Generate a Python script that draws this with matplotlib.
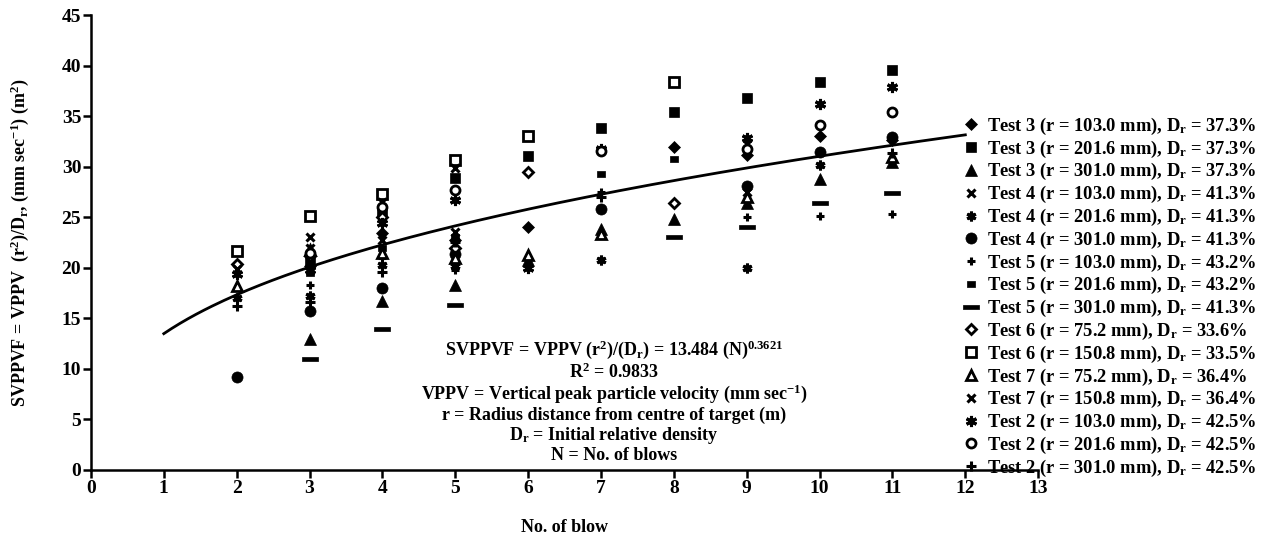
import matplotlib
matplotlib.use("Agg")
import matplotlib.pyplot as plt
import numpy as np

plt.rcParams['font.family'] = ['Liberation Serif', 'DejaVu Serif']
plt.rcParams['font.weight'] = 'bold'
plt.rcParams['mathtext.fontset'] = 'custom'
plt.rcParams['mathtext.rm'] = 'Liberation Serif:bold'
plt.rcParams['mathtext.it'] = 'Liberation Serif:italic:bold'
plt.rcParams['mathtext.bf'] = 'Liberation Serif:bold'

nan = np.nan
blows = [2, 3, 4, 5, 6, 7, 8, 9, 10, 11]

# values, one list per test / radius
t3_103 = [nan, 20.2, 23.4, 22.8, 24.0, nan, 32.0, 31.2, 33.0, 32.6]
t3_201 = [nan, 20.6, 25.5, 28.9, 31.1, 33.8, 35.4, 36.8, 38.4, 39.6]
t3_301 = [nan, 13.0, 16.7, 18.3, 20.8, 23.8, 24.8, 26.4, 28.8, 30.5]
t4_103 = [nan, 22.0, 22.8, 23.5, nan, nan, nan, 27.5, nan, nan]
t4_201 = [17.0, 17.2, 20.3, 20.2, nan, 20.8, nan, 20.0, 30.2, nan]
t4_301 = [9.2, 15.7, 18.0, 21.4, nan, 25.8, nan, 28.1, 31.5, 32.9]
t5_103 = [nan, 18.3, 21.0, 19.8, nan, 27.5, nan, 25.0, 25.1, 25.3]
t5_201 = [nan, 19.5, 22.0, 23.0, nan, 29.3, 30.8, nan, nan, nan]
t5_301 = [nan, 11.0, 13.9, 16.3, nan, nan, 23.0, 24.0, 26.4, 27.4]
t6_75 = [20.4, 21.2, 25.0, 22.0, 29.5, nan, 26.4, nan, nan, nan]
t6_150 = [21.7, 25.1, 27.3, 30.7, 33.0, nan, 38.4, nan, nan, nan]
t7_75 = [18.2, 21.8, 21.5, 21.0, 21.3, 23.3, nan, 27.0, nan, 31.0]
t7_150 = [19.9, 23.0, 26.5, 29.9, nan, nan, nan, 32.3, nan, nan]
t2_103 = [19.4, 19.8, 24.4, 26.7, 20.0, 31.8, nan, 32.8, 36.2, 37.9]
t2_201 = [nan, 21.5, 26.0, 27.7, nan, 31.6, nan, 31.8, 34.1, 35.4]
t2_301 = [16.2, 16.6, 19.6, 22.6, nan, 27.0, nan, nan, nan, 31.4]

labels = [
    "Test 3 (r = 103.0 mm), D$_{\\mathrm{r}}$ = 37.3%",
    "Test 3 (r = 201.6 mm), D$_{\\mathrm{r}}$ = 37.3%",
    "Test 3 (r = 301.0 mm), D$_{\\mathrm{r}}$ = 37.3%",
    "Test 4 (r = 103.0 mm), D$_{\\mathrm{r}}$ = 41.3%",
    "Test 4 (r = 201.6 mm), D$_{\\mathrm{r}}$ = 41.3%",
    "Test 4 (r = 301.0 mm), D$_{\\mathrm{r}}$ = 41.3%",
    "Test 5 (r = 103.0 mm), D$_{\\mathrm{r}}$ = 43.2%",
    "Test 5 (r = 201.6 mm), D$_{\\mathrm{r}}$ = 43.2%",
    "Test 5 (r = 301.0 mm), D$_{\\mathrm{r}}$ = 41.3%",
    "Test 6 (r = 75.2 mm), D$_{\\mathrm{r}}$ = 33.6%",
    "Test 6 (r = 150.8 mm), D$_{\\mathrm{r}}$ = 33.5%",
    "Test 7 (r = 75.2 mm), D$_{\\mathrm{r}}$ = 36.4%",
    "Test 7 (r = 150.8 mm), D$_{\\mathrm{r}}$ = 36.4%",
    "Test 2 (r = 103.0 mm), D$_{\\mathrm{r}}$ = 42.5%",
    "Test 2 (r = 201.6 mm), D$_{\\mathrm{r}}$ = 42.5%",
    "Test 2 (r = 301.0 mm), D$_{\\mathrm{r}}$ = 42.5%",
]

# fit given on the chart
fit_a = 13.484
fit_b = 0.3621

small_bar = [(-0.5, -0.35), (0.5, -0.35), (0.5, 0.35), (-0.5, 0.35), (-0.5, -0.35)]
long_bar = [(-1, -0.32), (1, -0.32), (1, 0.32), (-1, 0.32), (-1, -0.32)]
aster = (6, 2, 0)

# marker, filled, size
styles = [
    ('D', True, 6), ('s', True, 7), ('^', True, 8),
    ('x', False, 6), (aster, False, 7), ('o', True, 8),
    ('+', False, 6), (small_bar, True, 6), (long_bar, True, 11),
    ('D', False, 5.5), ('s', False, 7), ('^', False, 7.5),
    ('x', False, 6), (aster, False, 8), ('o', False, 6.5),
    ('+', False, 7),
]

series = [t3_103, t3_201, t3_301, t4_103, t4_201, t4_301, t5_103, t5_201,
          t5_301, t6_75, t6_150, t7_75, t7_150, t2_103, t2_201, t2_301]

fig = plt.figure(figsize=(12.63, 5.42), dpi=100)
ax = fig.add_axes([0.072, 0.133, 0.75, 0.839])

nn = np.linspace(1, 12, 200)
ax.plot(nn, fit_a * nn ** fit_b, color='black', lw=2, zorder=1)

for vals, lab, (mk, filled, ms) in zip(series, labels, styles):
    if mk in ('x', '+') or mk == aster:
        ax.plot(blows, vals, ls='none', marker=mk, ms=ms, color='black',
                mew=2.2, label=lab, zorder=3)
    elif filled:
        ax.plot(blows, vals, ls='none', marker=mk, ms=ms, color='black',
                mec='black', mew=0.5, label=lab, zorder=3)
    else:
        ax.plot(blows, vals, ls='none', marker=mk, ms=ms, mfc='white',
                mec='black', mew=2, label=lab, zorder=3)

ax.set_xlim(0, 13)
ax.set_ylim(0, 45)
ax.set_xticks(range(0, 14))
ax.set_yticks(range(0, 46, 5))
for s in ('top', 'right'):
    ax.spines[s].set_visible(False)
for s in ('left', 'bottom'):
    ax.spines[s].set_linewidth(1.8)
ax.tick_params(width=1.8, length=6, labelsize=14, pad=1)
for t in ax.get_xticklabels() + ax.get_yticklabels():
    t.set_fontweight('bold')

ax.set_xlabel('No. of blow', fontsize=13, fontweight='bold', labelpad=16)
ax.set_ylabel('SVPPVF = VPPV  (r$^{2}$)/D$_{\\mathrm{r}}$, (mm sec$^{-1}$) (m$^{2}$)',
              fontsize=13, fontweight='bold', labelpad=22)

note = ("SVPPVF = VPPV (r$^{2}$)/(D$_{\\mathrm{r}}$) = 13.484 (N)$^{0.3621}$\n"
        "R$^{2}$ = 0.9833\n"
        "VPPV = Vertical peak particle velocity (mm sec$^{-1}$)\n"
        "r = Radius distance from centre of target (m)\n"
        "D$_{\\mathrm{r}}$ = Initial relative density\n"
        "N = No. of blows")
ax.text(7.18, 6.8, note, ha='center', va='center', fontsize=13,
        fontweight='bold', linespacing=1.08)

fig.legend(loc='upper left', bbox_to_anchor=(0.757, 0.800), frameon=False,
           fontsize=13.3, handlelength=0.8, handletextpad=0.5,
           labelspacing=0.09, borderaxespad=0, numpoints=1)

fig.savefig('out.png', dpi=100)
